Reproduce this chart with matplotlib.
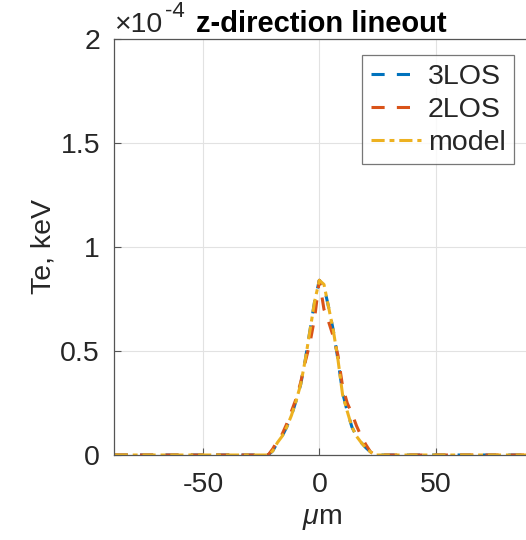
import numpy as np
import matplotlib
matplotlib.use('Agg')
import matplotlib.pyplot as plt

plt.rcParams['font.family'] = ['Liberation Sans', 'DejaVu Sans']
plt.rcParams['mathtext.fontset'] = 'custom'
plt.rcParams['mathtext.rm'] = 'Liberation Sans'
plt.rcParams['mathtext.it'] = 'Liberation Sans:italic'

# lineout positions (um) and Te values (x1e-4 keV)
x_um = [-88, -22, -20, -18, -16, -14, -12, -10, -8, -6, -4, -2, 0,
        2, 4, 6, 8, 10, 12, 14, 16, 18, 20, 22, 24, 91]
te_3los = [0, 0, 0.02, 0.06, 0.09, 0.135, 0.19, 0.26, 0.34, 0.46, 0.60, 0.74, 0.84,
           0.81, 0.71, 0.60, 0.46, 0.30, 0.21, 0.135, 0.09, 0.06, 0.035, 0.015, 0, 0]
te_2los = [0, 0, 0.03, 0.07, 0.10, 0.15, 0.21, 0.27, 0.35, 0.45, 0.54, 0.66, 0.84,
           0.70, 0.64, 0.57, 0.48, 0.33, 0.25, 0.20, 0.14, 0.09, 0.05, 0.015, 0, 0]
te_model = [0, 0, 0.02, 0.06, 0.09, 0.135, 0.19, 0.26, 0.34, 0.46, 0.60, 0.74, 0.84,
            0.82, 0.71, 0.60, 0.46, 0.29, 0.21, 0.135, 0.09, 0.06, 0.035, 0.015, 0, 0]

xticks = [-50, 0, 50]
yticks = [0, 0.5, 1, 1.5, 2]
ytick_labels = ['0', '0.5', '1', '1.5', '2']

txt = '#262626'
fs = 20.5

fig = plt.figure(figsize=(5.26, 5.40), dpi=100)
ax = fig.add_axes([114/526, 1-455/540, (530-114)/526, (455-39)/540])

lw = 2.2
ax.plot(x_um, te_3los, '--', color='#0072BD', lw=lw, label='3LOS', dashes=(4.3, 4))
ax.plot(x_um, te_2los, '--', color='#D95319', lw=lw, label='2LOS', dashes=(4.3, 4))
ax.plot(x_um, te_model, '-.', color='#EDB120', lw=lw, label='model', dashes=(4.3, 1.6, 1.6, 1.6))

ax.set_xlim(-88.3, 90.6)
ax.set_ylim(0, 2)
ax.set_xticks(xticks)
ax.set_xticklabels([str(t) for t in xticks])
ax.set_yticks(yticks)
ax.set_yticklabels(ytick_labels)
ax.grid(True, color='#e2e2e2', lw=0.8)
ax.set_axisbelow(True)
ax.tick_params(direction='in', length=5, width=0.8, colors='#555555',
               labelcolor=txt, labelsize=fs)
ax.tick_params(axis='x', pad=12)
ax.tick_params(axis='y', pad=10)
for s in ax.spines.values():
    s.set_color('#555555')
    s.set_linewidth(0.9)

ax.set_xlabel(r'$\mu$m', fontsize=fs, color=txt, labelpad=6)
ax.set_ylabel('Te, keV', fontsize=fs, color=txt, labelpad=3)

# exponent label and title, MATLAB style
fig.text(114/526, 1-32/540, '\u00d710', fontsize=fs, color=txt,
         ha='left', va='baseline')
fig.text(165/526, 1-17/540, '-4', fontsize=16, color=txt,
         ha='left', va='baseline')
fig.text(321/526, 1-32/540, 'z-direction lineout', fontsize=21, fontweight='bold',
         color='black', ha='center', va='baseline')

leg = ax.legend(loc='upper right', bbox_to_anchor=((514-114)/416, (455-55)/416),
                fontsize=fs, frameon=True, fancybox=False, handlelength=1.75,
                handletextpad=0.25, borderpad=0.3, labelspacing=0.25, borderaxespad=0)
leg.get_frame().set_edgecolor('#555555')
leg.get_frame().set_linewidth(0.9)
for t in leg.get_texts():
    t.set_color(txt)

fig.savefig('out.png', dpi=100)
